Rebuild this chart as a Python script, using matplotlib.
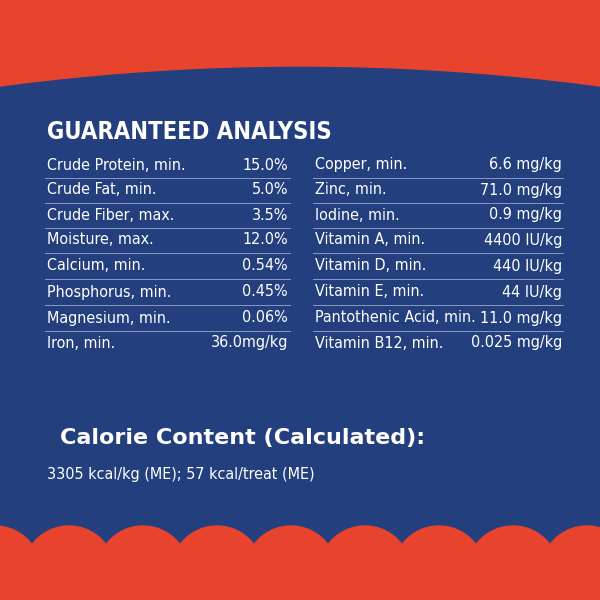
import matplotlib
matplotlib.use("Agg")
import matplotlib.pyplot as plt
import numpy as np
from matplotlib.patches import Circle, Rectangle, Polygon

ORANGE = "#E8432C"
BLUE = "#243F7D"

left_labels = ["Crude Protein, min.", "Crude Fat, min.", "Crude Fiber, max.", "Moisture, max.",
               "Calcium, min.", "Phosphorus, min.", "Magnesium, min.", "Iron, min."]
left_values = ["15.0%", "5.0%", "3.5%", "12.0%", "0.54%", "0.45%", "0.06%", "36.0mg/kg"]
right_labels = ["Copper, min.", "Zinc, min.", "Iodine, min.", "Vitamin A, min.",
                "Vitamin D, min.", "Vitamin E, min.", "Pantothenic Acid, min.", "Vitamin B12, min."]
right_values = ["6.6 mg/kg", "71.0 mg/kg", "0.9 mg/kg", "4400 IU/kg",
                "440 IU/kg", "44 IU/kg", "11.0 mg/kg", "0.025 mg/kg"]

title = "GUARANTEED ANALYSIS"
calorie_title = "Calorie Content (Calculated):"
calorie_text = "3305 kcal/kg (ME); 57 kcal/treat (ME)"

fig = plt.figure(figsize=(6, 6), dpi=100)
ax = fig.add_axes([0, 0, 1, 1])
ax.set_xlim(0, 600)
ax.set_ylim(600, 0)
ax.axis("off")

# background
ax.add_patch(Rectangle((0, 0), 600, 600, color=BLUE, zorder=0))
xs = np.linspace(0, 600, 100)
top_edge = 66 + 20 * ((xs - 300) / 300) ** 2
ax.add_patch(Polygon(np.column_stack([np.r_[xs, 600, 0], np.r_[top_edge, 0, 0]]),
                     color=ORANGE, zorder=1))

# scalloped bottom
ax.add_patch(Rectangle((0, 558), 600, 42, color=ORANGE, zorder=1))
for cx in np.arange(-5, 640, 74):
    ax.add_patch(Circle((cx, 572), 46, color=ORANGE, zorder=1))

ax.text(47, 132, title, color="white", fontsize=17, fontweight="black",
        va="center", ha="left", fontstretch="condensed")

row_y = [165, 190, 215, 240, 266, 292, 318, 343]
kw = dict(color="white", fontsize=11.5, va="center", fontstretch="condensed",
          family="DejaVu Sans")
for i, y in enumerate(row_y):
    ax.text(47, y, left_labels[i], ha="left", **kw)
    ax.text(288, y, left_values[i], ha="right", **kw)
    ax.text(315, y, right_labels[i], ha="left", **kw)
    ax.text(562, y, right_values[i], ha="right", **kw)
    if i < len(row_y) - 1:
        yl = (y + row_y[i + 1]) / 2
        ax.plot([45, 290], [yl, yl], color="#8A9BC4", lw=0.7)
        ax.plot([313, 563], [yl, yl], color="#8A9BC4", lw=0.7)

ax.text(60, 438, calorie_title, color="white", fontsize=16, fontweight="bold",
        va="center", ha="left")
ax.text(47, 474, calorie_text, color="white", fontsize=11.5, va="center", ha="left",
        fontstretch="condensed")

fig.savefig("out.png", dpi=100)
